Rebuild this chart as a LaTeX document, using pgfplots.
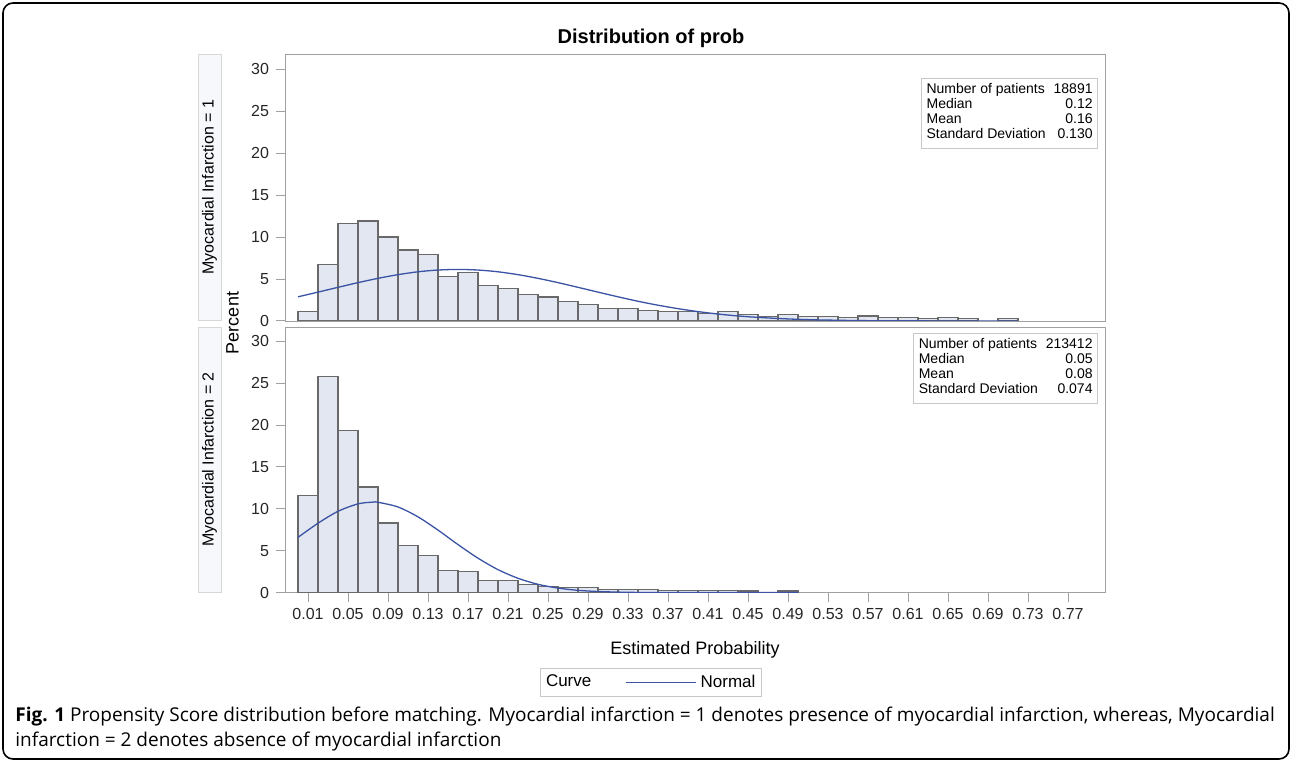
\documentclass[border=0pt]{standalone}
\usepackage{fontspec}
\setmainfont{Liberation Sans}
\newfontfamily\capfont{Open Sans}
\usepackage{pgfplots}
\pgfplotsset{compat=1.18}

\definecolor{barfill}{RGB}{226,231,241}
\definecolor{baredge}{RGB}{105,105,105}
\definecolor{framegray}{RGB}{160,160,160}
\definecolor{curveblue}{RGB}{58,83,164}
\definecolor{stripfill}{RGB}{247,248,252}
\definecolor{stripedge}{RGB}{215,215,215}
\definecolor{insetedge}{RGB}{200,200,200}

\pgfplotsset{
  panel/.style={
    scale only axis, width=410pt,
    xmin=-0.013, xmax=0.807, ymin=0,
    axis line style={draw=framegray},
    ytick={0,5,...,30}, ytick pos=left, xtick pos=bottom,
    tick align=outside, major tick length=4.5pt,
    tick style={draw=framegray, line width=0.5pt},
    every tick label/.append style={font=\fontsize{8}{9}\selectfont, text=black!85},
    /pgf/number format/assume math mode=true,
  },
  bars/.style={ybar, bar width=0.02, fill=barfill, draw=baredge, line width=0.6pt, forget plot},
  normal/.style={curveblue, line width=0.65pt, smooth, no marks},
  longlegend/.style={legend image code/.code={\draw[##1] (0pt,0pt) -- (35pt,0pt);}},
}

\newcommand\inset[4]{%
  {\renewcommand\arraystretch{1}%
  \begin{tabular}{@{}l@{\hspace{4pt}}r@{}}
  Number of patients & #1\\
  Median & #2\\
  Mean & #3\\
  Standard Deviation & #4
  \end{tabular}}}

\begin{document}
\begin{tikzpicture}
\useasboundingbox (0,0) rectangle (646pt,381pt);
\draw[line width=0.8pt, rounded corners=5pt] (1.5pt,1.5pt) rectangle (644.5pt,379.5pt);

\node[font=\bfseries\fontsize{10}{12}\selectfont] at (325.5pt,362pt) {Distribution of prob};

% strip labels
\draw[stripedge, fill=stripfill] (99pt,221pt) rectangle (110.5pt,354pt);
\node[rotate=90, font=\fontsize{8}{9}\selectfont] at (104.75pt,287.5pt) {Myocardial Infarction = 1};
\draw[stripedge, fill=stripfill] (99pt,85pt) rectangle (110.5pt,217.5pt);
\node[rotate=90, font=\fontsize{8}{9}\selectfont] at (104.75pt,151.25pt) {Myocardial Infarction = 2};
\node[rotate=90, font=\fontsize{9}{10}\selectfont] at (116.25pt,219.5pt) {Percent};

% Myocardial Infarction = 1
\begin{axis}[panel, at={(142.5pt,220.5pt)}, anchor=south west,
  height=133.5pt, ymax=31.8, xtick=\empty]
\addplot[bars] coordinates {
 (0.01,1.1) (0.03,6.75) (0.05,11.6) (0.07,11.9) (0.09,10.0) (0.11,8.45)
 (0.13,7.9) (0.15,5.3) (0.17,5.8) (0.19,4.25) (0.21,3.9) (0.23,3.2)
 (0.25,2.85) (0.27,2.3) (0.29,2.0) (0.31,1.45) (0.33,1.45) (0.35,1.25)
 (0.37,1.1) (0.39,1.1) (0.41,0.85) (0.43,1.1) (0.45,0.8) (0.47,0.55)
 (0.49,0.8) (0.51,0.55) (0.53,0.55) (0.55,0.4) (0.57,0.6) (0.59,0.4)
 (0.61,0.4) (0.63,0.27) (0.65,0.4) (0.67,0.27) (0.71,0.27)};
\addplot[normal] coordinates {
 (0,2.88) (0.02,3.44) (0.04,4.01) (0.06,4.57) (0.08,5.08) (0.10,5.52)
 (0.12,5.86) (0.14,6.07) (0.16,6.14) (0.18,6.07) (0.20,5.86) (0.22,5.52)
 (0.24,5.08) (0.26,4.57) (0.28,4.01) (0.30,3.44) (0.32,2.88) (0.34,2.35)
 (0.36,1.88) (0.38,1.47) (0.40,1.12) (0.42,0.83) (0.44,0.60) (0.46,0.43)
 (0.48,0.30) (0.50,0.20) (0.52,0.13) (0.54,0.09) (0.56,0.05) (0.60,0.02)
 (0.64,0.01) (0.72,0)};
\node[draw=insetedge, fill=white, anchor=north east, inner sep=2.5pt,
  font=\fontsize{7}{7.5}\selectfont] at ([xshift=-3.5pt,yshift=-12pt]rel axis cs:1,1)
  {\inset{18891}{0.12}{0.16}{0.130}};
\end{axis}

% Myocardial Infarction = 2
\begin{axis}[panel, at={(142.5pt,84.7pt)}, anchor=south west,
  height=132.8pt, ymax=31.7,
  xtick={0.01,0.05,0.09,0.13,0.17,0.21,0.25,0.29,0.33,0.37,0.41,0.45,0.49,0.53,0.57,0.61,0.65,0.69,0.73,0.77},
  xticklabel style={/pgf/number format/.cd, fixed, fixed zerofill, precision=2},
  xlabel={Estimated Probability},
  xlabel style={font=\fontsize{9}{10}\selectfont, yshift=-4pt},
  legend columns=2,
  legend style={at={(axis description cs:0.446,-0.285)}, anchor=north,
    draw=insetedge, font=\fontsize{8.5}{10}\selectfont, inner sep=1pt,
    /tikz/every even column/.append style={column sep=15pt}},
]
\addplot[bars] coordinates {
 (0.01,11.6) (0.03,25.8) (0.05,19.3) (0.07,12.6) (0.09,8.3) (0.11,5.65)
 (0.13,4.4) (0.15,2.65) (0.17,2.5) (0.19,1.4) (0.21,1.4) (0.23,1.0)
 (0.25,0.7) (0.27,0.6) (0.29,0.6) (0.31,0.4) (0.33,0.4) (0.35,0.4)
 (0.37,0.25) (0.39,0.25) (0.41,0.22) (0.43,0.22) (0.45,0.2) (0.49,0.2)};
\addlegendimage{empty legend}
\addlegendentry{Curve}
\addplot[normal, longlegend] coordinates {
 (0,6.59) (0.02,8.28) (0.04,9.70) (0.06,10.59) (0.075,10.8) (0.08,10.78)
 (0.10,10.22) (0.12,9.04) (0.14,7.46) (0.16,5.73) (0.18,4.11) (0.20,2.74)
 (0.22,1.71) (0.24,0.99) (0.26,0.54) (0.28,0.27) (0.30,0.13) (0.32,0.06)
 (0.34,0.02) (0.38,0) (0.50,0)};
\addlegendentry{Normal}
\node[draw=insetedge, fill=white, anchor=north east, inner sep=2.5pt,
  font=\fontsize{7}{7.5}\selectfont] at ([xshift=-3.5pt,yshift=-3pt]rel axis cs:1,1)
  {\inset{213412}{0.05}{0.08}{0.074}};
\end{axis}

\node[anchor=north west, align=left, inner sep=0pt, font=\capfont\fontsize{9.5}{12.2}\selectfont]
  at (7.5pt,27.5pt) {{\bfseries Fig. 1} Propensity Score distribution before matching. Myocardial infarction = 1 denotes presence of myocardial infarction, whereas, Myocardial\\
  infarction = 2 denotes absence of myocardial infarction};
\end{tikzpicture}
\end{document}
